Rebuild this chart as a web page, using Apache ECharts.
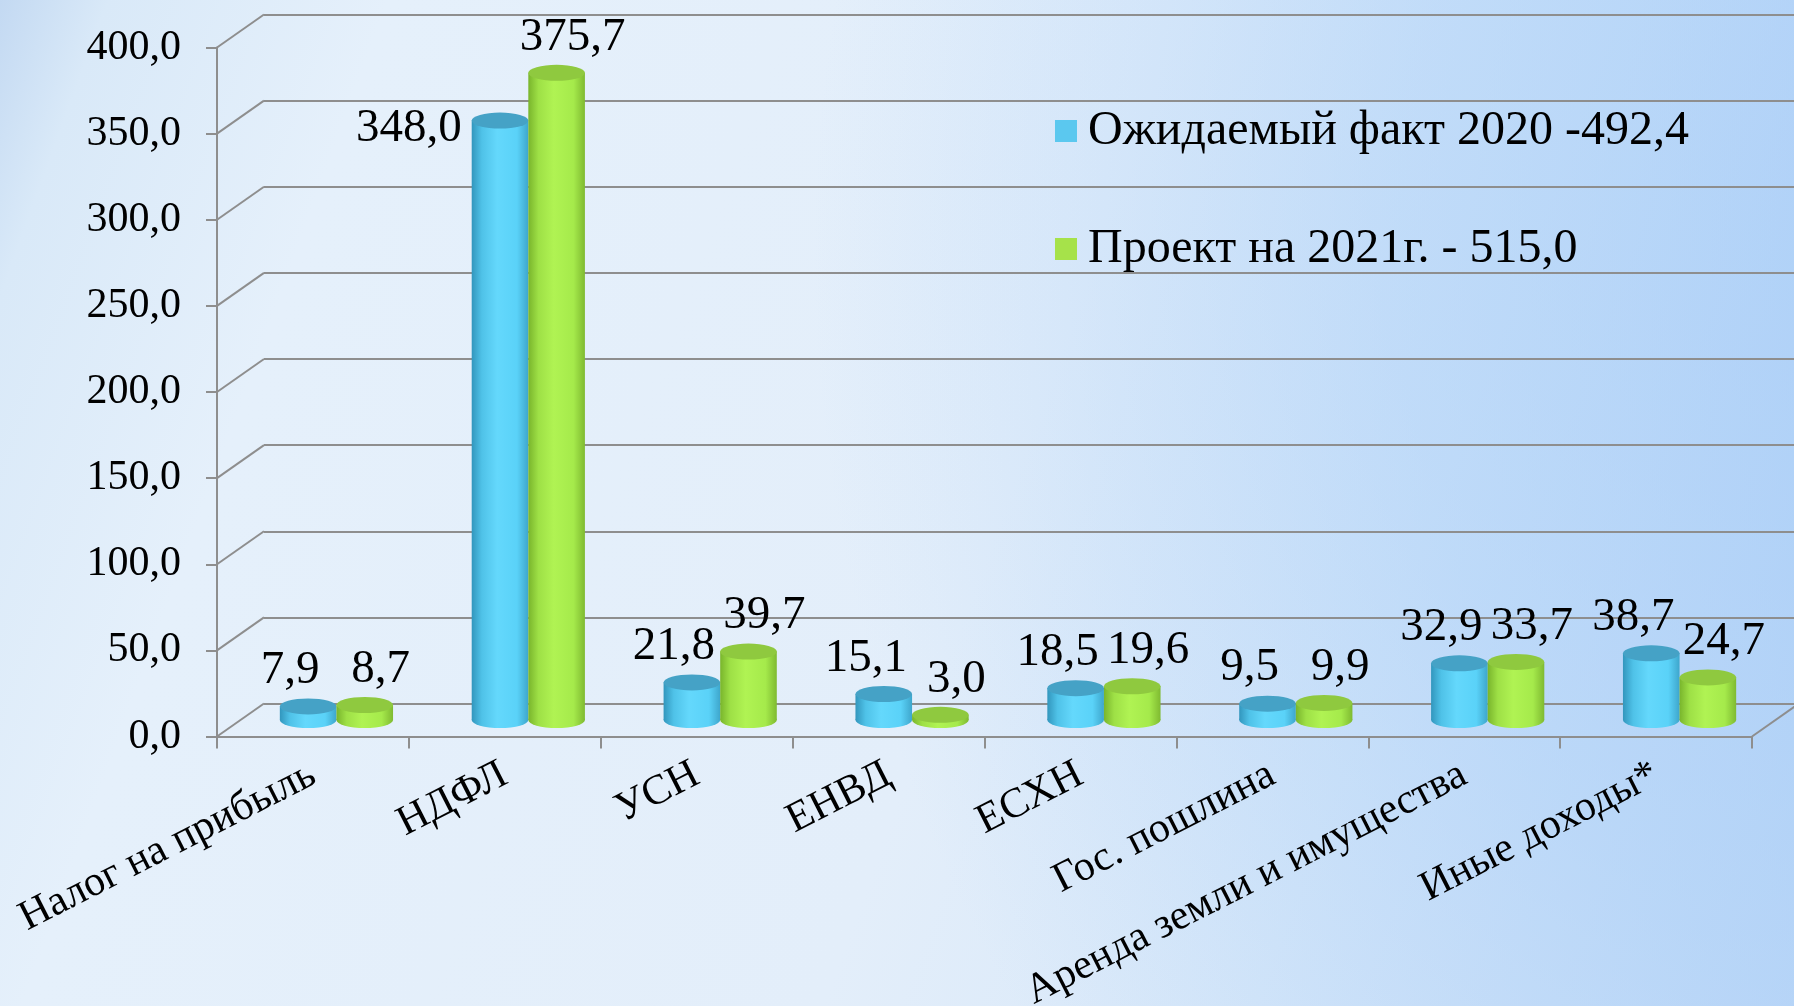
<!DOCTYPE html>
<html>
<head>
<meta charset="utf-8">
<script src="https://cdn.jsdelivr.net/npm/echarts@6/dist/echarts.min.js"></script>
<style>
  html, body { margin: 0; padding: 0; }
  body {
    width: 1794px; height: 1006px; overflow: hidden;
    background:
      radial-gradient(circle at 130% 25%, rgba(150,195,247,0.75) 0, rgba(160,202,248,0.45) 38%, rgba(160,202,248,0) 62%),
      linear-gradient(110deg, #c3d9f2 0, #d9e9f8 5%, #e5f0fb 18%, #e3eefa 55%, #d8e8f9 75%, #c8ddf7 100%);
  }
  #chart { width: 1794px; height: 1006px; }
</style>
</head>
<body>
<div id="chart"></div>
<script>
// данные
const categories = ['Налог на прибыль', 'НДФЛ', 'УСН', 'ЕНВД', 'ЕСХН', 'Гос. пошлина', 'Аренда земли и имущества', 'Иные доходы*']
const fact2020 = [7.9, 348.0, 21.8, 15.1, 18.5, 9.5, 32.9, 38.7]
const plan2021 = [8.7, 375.7, 39.7, 3.0, 19.6, 9.9, 33.7, 24.7]
const seriesNames = ['Ожидаемый факт 2020 -492,4', 'Проект на 2021г. - 515,0']
const yTicks = [0, 50, 100, 150, 200, 250, 300, 350, 400]

const FONT = "'Liberation Serif', 'Times New Roman', serif"
const GRID_COLOR = '#8e8e8e'
const DX = 47, DY = -33   // глубина 3D-рамки
const fmt = v => v.toFixed(1).replace('.', ',')

const palettes = [
  { legend: '#5bc8ef', top: '#45a2c6', body: ['#3296bd', '#4fc2e8', '#64d8fc', '#5ad2f8', '#3ea6cc'], dx: -18 },
  { legend: '#a6e24a', top: '#8fc93f', body: ['#79b52c', '#9ee046', '#b0f353', '#a5ea4b', '#7fba31'], dx: 16 },
]

function bodyFill(p) {
  return new echarts.graphic.LinearGradient(0, 0, 1, 0, [
    { offset: 0, color: p.body[0] },
    { offset: 0.18, color: p.body[1] },
    { offset: 0.45, color: p.body[2] },
    { offset: 0.8, color: p.body[3] },
    { offset: 1, color: p.body[4] },
  ])
}

function renderCylinder(params, api) {
  const i = api.value(0)
  const v = api.value(1)
  const p = palettes[params.seriesIndex]
  const band = api.size([1, 0])[0]
  const w = band * 0.295
  const base = api.coord([i, 0])
  const top = api.coord([i, v])
  const cx = base[0] + (params.seriesIndex === 0 ? -w / 2 : w / 2)
  const r = w / 2, ry = 8
  const children = [
    { type: 'circle', x: cx, y: base[1], scaleY: ry / r, shape: { cx: 0, cy: 0, r }, style: { fill: bodyFill(p) } },
    { type: 'rect', shape: { x: cx - r, y: top[1], width: w, height: base[1] - top[1] }, style: { fill: bodyFill(p) } },
    { type: 'circle', x: cx, y: top[1], scaleY: ry / r, shape: { cx: 0, cy: 0, r }, style: { fill: p.top } },
  ]
  // подпись значения
  const label = { type: 'text', style: { text: fmt(v), fill: '#000', fontSize: 47, fontFamily: FONT } }
  if (v > 100 && params.seriesIndex === 0) {
    label.x = cx - r - 10; label.y = top[1] + 8
    label.style.align = 'right'; label.style.verticalAlign = 'middle'
  } else {
    label.x = cx + p.dx; label.y = top[1] - 12
    label.style.align = 'center'; label.style.verticalAlign = 'bottom'
  }
  children.push(label)
  return { type: 'group', children }
}

// боковые диагонали рамки
function renderDiagonal(params, api) {
  const i = api.value(0), v = api.value(1), side = api.value(2)
  const half = api.size([1, 0])[0] / 2
  const pt = api.coord([i, v])
  const x0 = side ? pt[0] + half : pt[0] - half
  return {
    type: 'line',
    shape: { x1: x0, y1: pt[1], x2: x0 + DX, y2: pt[1] + DY },
    style: { stroke: GRID_COLOR, lineWidth: 2 },
  }
}

const chart = echarts.init(document.getElementById('chart'), null, { renderer: 'canvas' })

const hiddenCat = { type: 'category', data: categories, show: false }
const hiddenVal = { type: 'value', min: 0, max: 400, interval: 50, show: false }

chart.setOption({
  backgroundColor: 'transparent',
  animation: false,
  grid: [
    { left: 217, top: 47.5, width: 1535, height: 689, outerBoundsMode: 'none' },                    // передняя плоскость
    { left: 217 + DX / 2, top: 47.5 + DY / 2, width: 1535, height: 689, outerBoundsMode: 'none' },  // столбцы
    { left: 217 + DX, top: 47.5 + DY, width: 1545, height: 689, outerBoundsMode: 'none' },          // задняя стенка
  ],
  xAxis: [
    {
      type: 'category', data: categories, gridIndex: 0,
      axisLine: { lineStyle: { color: GRID_COLOR, width: 2 } },
      axisTick: { show: true, length: 12, interval: 0, lineStyle: { color: GRID_COLOR, width: 2 } },
      axisLabel: { interval: 0, rotate: 27, margin: 36, color: '#000', fontSize: 42, fontFamily: FONT },
    },
    Object.assign({ gridIndex: 1 }, hiddenCat),
    Object.assign({ gridIndex: 2 }, hiddenCat),
  ],
  yAxis: [
    {
      type: 'value', gridIndex: 0, min: 0, max: 400, interval: 50,
      axisLine: { show: true, lineStyle: { color: GRID_COLOR, width: 2 } },
      axisTick: { show: true, length: 11, lineStyle: { color: GRID_COLOR, width: 2 } },
      splitLine: { show: false },
      axisLabel: { margin: 36, color: '#000', fontSize: 42, fontFamily: FONT, formatter: fmt },
    },
    Object.assign({ gridIndex: 1 }, hiddenVal),
    {
      type: 'value', gridIndex: 2, min: 0, max: 400, interval: 50,
      axisLine: { show: false }, axisTick: { show: false }, axisLabel: { show: false },
      splitLine: { show: true, lineStyle: { color: GRID_COLOR, width: 2 } },
    },
  ],
  legend: {
    data: seriesNames,
    orient: 'vertical', left: 1050, top: 102,
    icon: 'rect', itemWidth: 22, itemHeight: 22, itemGap: 70,
    textStyle: { color: '#000', fontSize: 48, fontFamily: FONT, padding: [0, 0, 0, 6] },
  },
  series: [
    {
      name: seriesNames[0], type: 'custom', xAxisIndex: 1, yAxisIndex: 1,
      itemStyle: { color: palettes[0].legend },
      data: fact2020.map((v, i) => [i, v]), encode: { x: 0, y: 1 },
      renderItem: renderCylinder, z: 3,
    },
    {
      name: seriesNames[1], type: 'custom', xAxisIndex: 1, yAxisIndex: 1,
      itemStyle: { color: palettes[1].legend },
      data: plan2021.map((v, i) => [i, v]), encode: { x: 0, y: 1 },
      renderItem: renderCylinder, z: 4,
    },
    {
      type: 'custom', xAxisIndex: 0, yAxisIndex: 0, silent: true, z: 1,
      data: yTicks.map(v => [0, v, 0]).concat([[categories.length - 1, 0, 1]]),
      encode: { x: 0, y: 1 },
      renderItem: renderDiagonal,
    },
  ],
})
</script>
</body>
</html>
